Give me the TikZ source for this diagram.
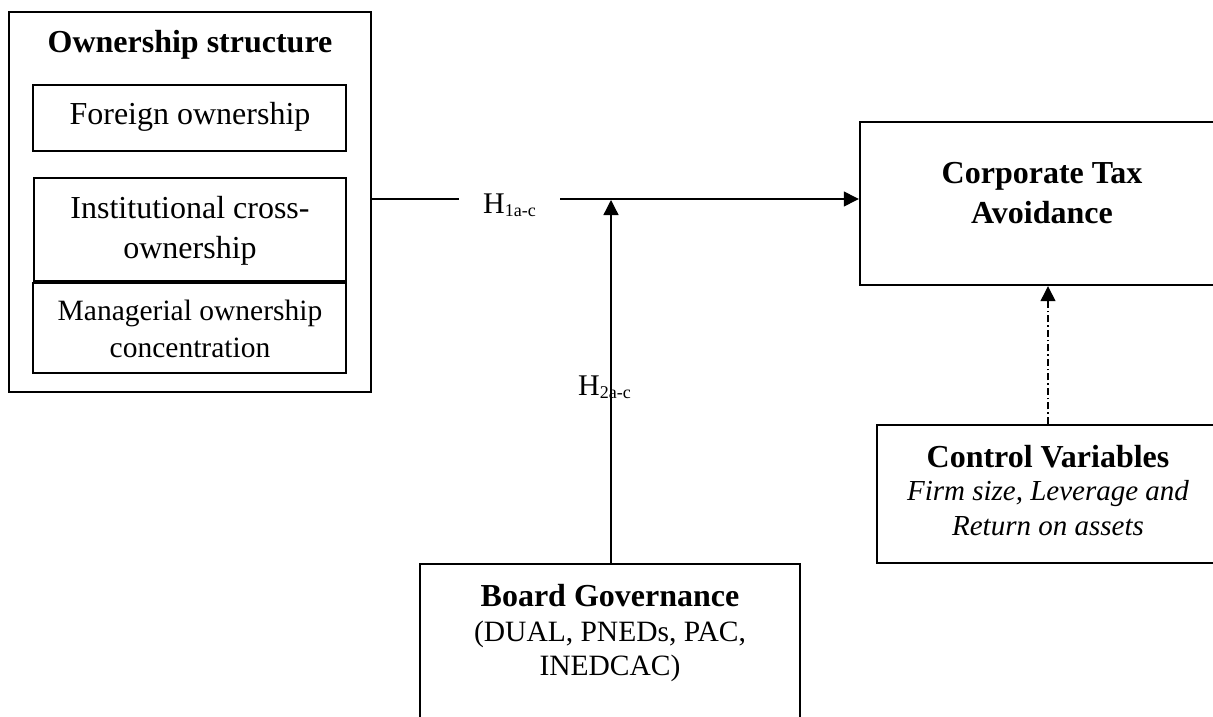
\documentclass[tikz,border=0pt]{standalone}
\usepackage{fontspec}
\setmainfont{Liberation Serif}
\usetikzlibrary{arrows.meta}
\begin{document}
\begin{tikzpicture}[x=1pt,y=-1pt,
  box/.style={draw,line width=2.4pt,rectangle,inner sep=0pt},
  txt/.style={anchor=base,inner sep=0pt,font=\fontsize{32}{38}\selectfont},
  stxt/.style={txt,font=\fontsize{29.5}{35}\selectfont},
  btxt/.style={txt,font=\fontsize{32}{38}\selectfont\bfseries},
  itxt/.style={txt,font=\fontsize{29}{35}\selectfont\itshape},
  hlab/.style={anchor=base west,inner sep=0pt,font=\fontsize{30}{34}\selectfont},
  conn/.style={line width=1.3pt},
  tipped/.style={-{Triangle[length=15pt,width=15pt]}}
]
\useasboundingbox (0,0) rectangle (1213,717);
\newcommand{\hsub}[1]{\raisebox{-3pt}{\fontsize{18}{18}\selectfont #1}}

% boxes
\node[box,minimum width=362pt,minimum height=380pt] (own) at (190,202) {};
\node[box,minimum width=313pt,minimum height=66pt] (foreign) at (189.5,118) {};
\node[box,minimum width=312pt,minimum height=103pt] (inst) at (190,229.5) {};
\node[box,minimum width=313pt,minimum height=90pt] (man) at (189.5,328) {};
\node[box,minimum width=365pt,minimum height=163pt] (corp) at (1042.5,203.5) {};
\node[box,minimum width=342pt,minimum height=138pt] (ctrl) at (1048,494) {};
\node[box,minimum width=380pt,minimum height=196pt] (board) at (610,662) {};

% texts
\node[btxt] (t1) at (190,53) {Ownership structure};
\node[txt] (t2) at (190,124) {Foreign ownership};
\node[txt] (t3) at (190,218) {Institutional cross-};
\node[txt] (t4) at (190,258) {ownership};
\node[stxt] (t5) at (190,320) {Managerial ownership};
\node[stxt] (t6) at (190,357) {concentration};
\node[btxt] (t7) at (1042,183) {Corporate Tax};
\node[btxt] (t8) at (1042,223) {Avoidance};
\node[btxt] (t9) at (1048,467) {Control Variables};
\node[itxt] (t10) at (1048,500) {Firm size, Leverage and};
\node[itxt] (t11) at (1048,535) {Return on assets};
\node[btxt] (t12) at (610,606) {Board Governance};
\node[stxt] (t13) at (610,641) {(DUAL, PNEDs, PAC,};
\node[stxt] (t14) at (610,675) {INEDCAC)};

% labels
\node[hlab] (h1) at (483,213) {H\hsub{1a-c}};
\node[hlab] (h2) at (578,395) {H\hsub{2a-c}};

% connectors
\coordinate (g1) at (459,199);
\coordinate (g2) at (560,199);
\coordinate (jn) at (611,200);
\draw[conn] (own.east |- g1) -- (g1);
\draw[conn,tipped] (g2) -- (corp.west |- g2);
\draw[conn,tipped] (board.north -| jn) -- (jn);
\draw[conn,tipped,dash pattern=on 7pt off 3pt on 1.5pt off 3pt] (ctrl.north) -- (ctrl.north |- corp.south);
\end{tikzpicture}
\end{document}
